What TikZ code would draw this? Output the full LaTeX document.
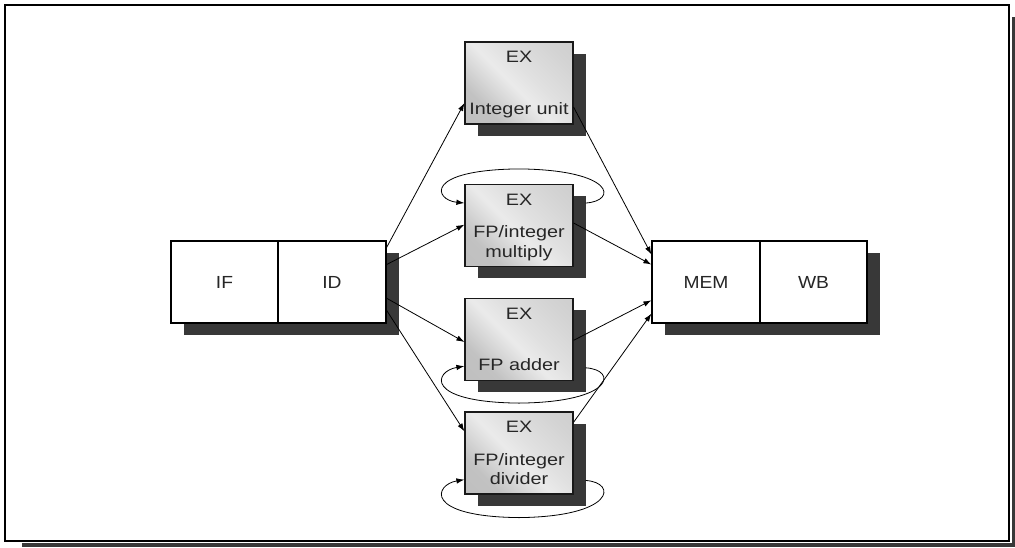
\documentclass[tikz,border=0pt]{standalone}
\usepackage{fontspec}
\setmainfont{Liberation Sans}
\usetikzlibrary{calc,arrows.meta,shadows}
% slightly widened sans lettering
\newcommand\stagetext[1]{\scalebox{1.1}[1]{#1}}
\newcommand\unittext[1]{\scalebox{1.2}[1]{#1}}
% brushed grey face of the execution units
\pgfdeclareverticalshading{unitface}{100bp}{
  color(0bp)=(black!26); color(28bp)=(black!24); color(47bp)=(black!8);
  color(57bp)=(black!12); color(75bp)=(black!17); color(100bp)=(black!22)}
\begin{document}
\begin{tikzpicture}[x=1pt,y=-1pt,
  darkshade/.style={fill=black!78},
  boxshadow/.style={drop shadow={opacity=1, fill=black!78, shadow xshift=13pt, shadow yshift=-11.5pt}},
  stage/.style={boxshadow, draw=black, line width=1.2pt, fill=white,
    minimum width=108pt, minimum height=82pt, inner sep=0pt,
    font=\fontsize{17.5}{20}\selectfont, text=black!85},
  exbox/.style={boxshadow, draw=black!90, line width=1.2pt,
    shade, shading=unitface, shading angle=-45,
    minimum width=108pt, minimum height=82pt, inner sep=0pt},
  lbl/.style={anchor=base, inner sep=0pt, font=\fontsize{16.5}{19}\selectfont, text=black!85},
  flow/.style={line width=0.8pt, -{Latex[length=8pt,width=5.5pt]}},
]
\useasboundingbox (0,0) rectangle (1015,547);

% outer frame with its shadow strips
\fill[darkshade] (1011.5,17) rectangle (1015,547);
\fill[darkshade] (22,543) rectangle (1015,547);
\draw[line width=1.6pt, fill=white] (5,5) rectangle (1009,541);

% pipeline stages
\node[stage, minimum width=107pt] (if) at (224.5,282) {\stagetext{IF}};
\node[stage] (id) at (332,282) {\stagetext{ID}};
\node[stage] (mem) at (706,282) {\stagetext{MEM}};
\node[stage, minimum width=107pt] (wb) at (813.5,282) {\stagetext{WB}};

% execution units
\node[exbox] (int) at (519,83) {};
\node[exbox] (mul) at (519,225.5) {};
\node[exbox] (add) at (519,339.5) {};
\node[exbox] (div) at (519,453) {};

\node[lbl] (intex) at ($(int.north)+(0,21.5)$) {\unittext{EX}};
\node[lbl] (intname) at ($(int.north)+(0,73)$) {\unittext{Integer unit}};
\node[lbl] (mulex) at ($(mul.north)+(0,21.5)$) {\unittext{EX}};
\node[lbl] (mulname1) at ($(mul.north)+(0,54)$) {\unittext{FP/integer}};
\node[lbl] (mulname2) at ($(mul.north)+(0,74)$) {\unittext{multiply}};
\node[lbl] (addex) at ($(add.north)+(0,21.5)$) {\unittext{EX}};
\node[lbl] (addname) at ($(add.north)+(0,73)$) {\unittext{FP adder}};
\node[lbl] (divex) at ($(div.north)+(0,21.5)$) {\unittext{EX}};
\node[lbl] (divname1) at ($(div.north)+(0,54)$) {\unittext{FP/integer}};
\node[lbl] (divname2) at ($(div.north)+(0,73)$) {\unittext{divider}};

% issue from ID into the units
\draw[flow] ($(id.north east)!0.085!(id.south east)$) -- ($(int.north west)!0.74!(int.south west)$);
\draw[flow] ($(id.north east)!0.29!(id.south east)$) -- ($(mul.north west)!0.49!(mul.south west)$);
\draw[flow] ($(id.north east)!0.695!(id.south east)$) -- ($(add.north west)!0.53!(add.south west)$);
\draw[flow] ($(id.north east)!0.84!(id.south east)$) -- ($(div.north west)!0.24!(div.south west)$);

% results into MEM
\draw[flow] ($(int.north east)!0.79!(int.south east)$) -- ($(mem.north west)!0.17!(mem.south west)$);
\draw[flow] ($(mul.north east)!0.47!(mul.south east)$) -- ($(mem.north west)!0.29!(mem.south west)$);
\draw[flow] ($(add.north east)!0.51!(add.south east)$) -- ($(mem.north west)!0.72!(mem.south west)$);
\draw[flow] ($(div.north east)!0.13!(div.south east)$) -- ($(mem.north west)!0.88!(mem.south west)$);

% pipelined units loop back on themselves
\coordinate (multop) at ($(mul.north)+(0,-15)$);
\draw[flow] ($(mul.north east)!0.23!(mul.south east)+(12,0)$)
  .. controls +(32,-2) and +(96,1) .. (multop)
  .. controls +(-96,1) and +(-30,-3) .. ($(mul.north west)!0.23!(mul.south west)$);

\coordinate (addbot) at ($(add.south)+(0,22)$);
\draw[flow] ($(add.north east)!0.84!(add.south east)+(12,0)$)
  .. controls +(32,2) and +(96,-1) .. (addbot)
  .. controls +(-96,-1) and +(-30,5) .. ($(add.north west)!0.82!(add.south west)$);

\coordinate (divbot) at ($(div.south)+(0,23)$);
\draw[flow] ($(div.north east)!0.83!(div.south east)+(12,0)$)
  .. controls +(32,2) and +(96,-1) .. (divbot)
  .. controls +(-96,-1) and +(-30,5) .. ($(div.north west)!0.82!(div.south west)$);
\end{tikzpicture}
\end{document}
